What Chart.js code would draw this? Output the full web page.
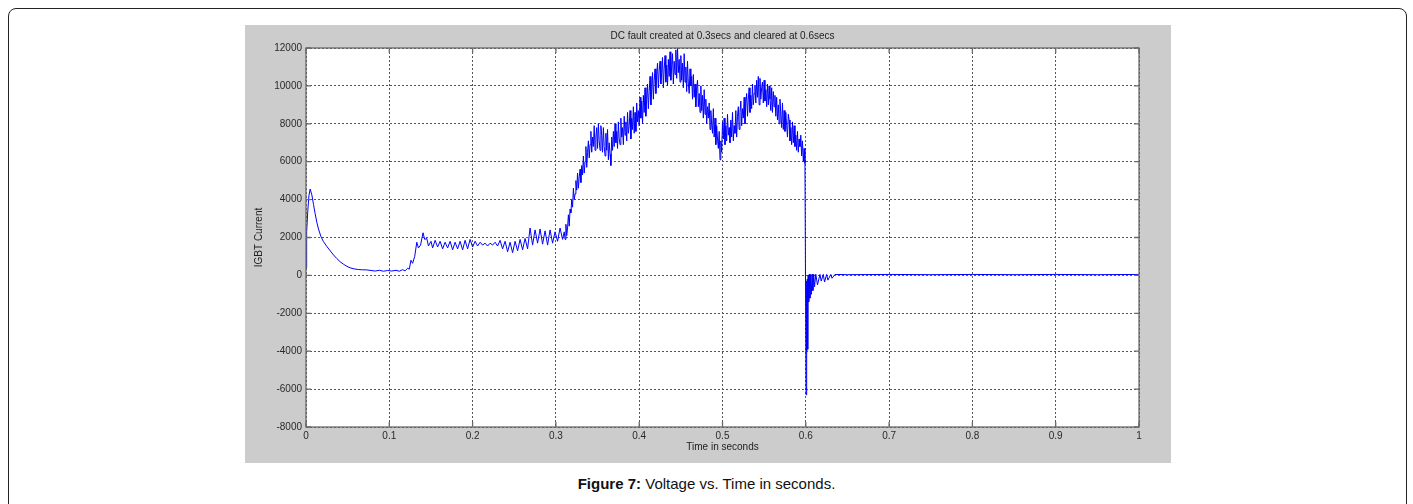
<!DOCTYPE html>
<html>
<head>
<meta charset="utf-8">
<script src="https://cdn.jsdelivr.net/npm/chart.js@4.4.0/dist/chart.umd.min.js"></script>
<style>
    body { margin: 0; background: #fff; width: 1413px; height: 504px; overflow: hidden; position: relative; font-family: Arial, "Liberation Sans", sans-serif; }
    #marco { position: absolute; left: 8px; top: 8px; width: 1397px; height: 520px; border: 1px solid #222; border-radius: 8px; }
    #panel { position: absolute; left: 245px; top: 25px; width: 926px; height: 438px; background: #cccccc; }
    #pie { position: absolute; left: 0; top: 475px; width: 1413px; text-align: center; font-size: 15px; line-height: 18px; color: #111; }
</style>
</head>
<body>
<div id="marco"></div>
<div id="panel"><canvas id="graficaIGBT" width="926" height="438"></canvas></div>
<div id="pie"><b>Figure 7:</b> Voltage vs. Time in seconds.</div>
<script>
//Arranque (0 - 0.073 s)
const tiempoArranque = [0, 0.0008, 0.002, 0.0035, 0.005, 0.007, 0.009, 0.011, 0.013, 0.015, 0.018, 0.021, 0.025, 0.029, 0.033, 0.037, 0.041, 0.045, 0.049, 0.053, 0.058, 0.063, 0.068, 0.073];
const corrienteArranque = [400, 2300, 3300, 4200, 4560, 4250, 3750, 3250, 2800, 2450, 2040, 1780, 1530, 1300, 1080, 890, 720, 590, 480, 400, 340, 310, 295, 290];

//Rizado antes de la falla (0.078 - 0.308 s)
const tiempoRizado = [0.078, 0.083, 0.088, 0.093, 0.098, 0.103, 0.108, 0.112, 0.116, 0.119, 0.122, 0.124, 0.126, 0.128, 0.1305, 0.133, 0.135, 0.1375, 0.1405, 0.1425,
    0.145, 0.147, 0.150, 0.152, 0.155, 0.158, 0.161, 0.164, 0.167, 0.170, 0.173, 0.176, 0.179, 0.182, 0.185, 0.188, 0.191, 0.194, 0.197, 0.200,
    0.203, 0.206, 0.209, 0.212, 0.215, 0.218, 0.221, 0.224, 0.227, 0.230, 0.233, 0.236, 0.239, 0.242, 0.245, 0.248, 0.251, 0.254, 0.257, 0.260,
    0.263, 0.266, 0.269, 0.272, 0.275, 0.278, 0.281, 0.284, 0.287, 0.290, 0.293, 0.296, 0.299, 0.302, 0.305, 0.308];
const corrienteRizado = [260, 230, 270, 220, 260, 230, 270, 220, 300, 240, 380, 330, 800, 640, 1000, 1750, 1450, 1600, 2250, 1900,
    1950, 1550, 1800, 1450, 1850, 1500, 1800, 1400, 1750, 1450, 1800, 1350, 1750, 1400, 1800, 1350, 1850, 1400, 1900, 1500,
    1800, 1550, 1750, 1600, 1700, 1550, 1700, 1600, 1750, 1550, 1850, 1400, 1800, 1250, 1750, 1200, 1800, 1300, 1900, 1350,
    1950, 1400, 2500, 1600, 2400, 1700, 2450, 1650, 2350, 1600, 2400, 1700, 2300, 1800, 2500, 1900];

//Falla DC (0.310 - 0.599 s, una muestra cada 1 ms)
const inicioFalla = 0.31;
const pasoFalla = 0.001;
const corrienteFalla = [
    2300, 1900, 2700, 2100, 2500,   3200, 2600, 3500, 3300, 4000,   3600, 4600, 4000, 4300, 5000,   4500, 5400, 4600, 5200, 5600,
    4900, 5800, 5300, 6300, 5400,   6000, 6800, 5700, 6500, 7100,   6200, 6900, 7600, 6500, 7300,   6800, 7900, 6600, 7300, 7800,
    6700, 8000, 7100, 6600, 7900,   7400, 6500, 7800, 6800, 6300,   7500, 6600, 7700, 6100, 7000,   6400, 5800, 7300, 6600, 7600,
    6800, 8000, 7000, 7600, 6700,   8100, 7200, 6900, 8300, 7300,   7800, 6900, 8400, 7400, 8100,   7100, 8600, 7500, 7900, 8700,
    7200, 8300, 7700, 8900, 7500,   8600, 7600, 9100, 8100, 8700,   7900, 9400, 8300, 9200, 8000,   9500, 8600, 9900, 8400, 9300,
    10100, 8800, 9700, 10500, 9000, 9800, 10700, 9300, 10300, 10900, 9600, 10600, 11200, 9900, 10800, 11300, 10100, 10700, 11500, 9900,
    10900, 11600, 10200, 11100, 10000, 11400, 10500, 11800, 10300, 11000, 11700, 10100, 11300, 10600, 11900, 10400, 12000, 10700, 11400, 10200,
    11600, 10300, 11200, 9900, 11700, 10200, 11000, 9700, 11300, 10100, 9600, 10900, 10000, 10500, 9300, 10600, 9400, 10100, 8900, 9900,
    10300, 8900, 9600, 8600, 10000, 8700, 9500, 8300, 9800, 8500,   9300, 8000, 8900, 8300, 9100,   7700, 8700, 8000, 7500, 8800,
    7300, 8300, 6900, 7900, 7200,   6700, 7600, 6100, 7100, 6500,   8100, 7200, 8300, 6900, 7900,   7100, 8500, 7400, 7800, 7000,
    8200, 7300, 8600, 7100, 7900,   7500, 8700, 7300, 8400, 8900,   7700, 8600, 9200, 7900, 8800,   8300, 9400, 8000, 9100, 9600,
    8400, 9300, 9900, 8600, 9500,   8800, 10100, 9000, 9600, 10000, 9100, 10300, 9400, 10500, 9000, 10400, 9300, 9900, 10200, 9100,
    10300, 9200, 9800, 8900, 10100, 9000, 10000, 9300, 8700, 9900,  8600, 9700, 8900, 9500, 8400,   9400, 8200, 9000, 8000, 9300,
    8500, 7800, 9100, 7700, 8700,   7600, 8600, 7900, 7300, 8500,   8200, 7100, 7800, 6900, 8100,   7000, 7900, 6800, 7400, 6600,
    7600, 6500, 7200, 6800, 7400,   6300, 7100, 6000, 6700, 5900
];

//Despeje de la falla (0.6 - 1 s)
const tiempoDespeje = [0.6003, 0.6008, 0.6013, 0.6018, 0.6023, 0.6028, 0.6035, 0.6042, 0.6050, 0.6058, 0.6066, 0.6075, 0.6085, 0.6095, 0.6105, 0.612, 0.614, 0.617,
    0.6185, 0.621, 0.6225, 0.625, 0.6265, 0.630, 0.6315, 0.635, 0.65, 0.70, 0.75, 0.80, 0.85, 0.90, 0.95, 1.0];
const corrienteDespeje = [-6300, -300, -4000, -200, -3900, 0, -1400, 60, -1200, 40, -1000, 60, -800, 60, -600, 60, -500, 50,
    -300, 50, -350, 50, -250, 50, -150, 50, 40, 50, 40, 50, 40, 50, 40, 50];

//Las etiquetas de los ejes
const ticksX = [0, 0.1, 0.2, 0.3, 0.4, 0.5, 0.6, 0.7, 0.8, 0.9, 1];
const ticksY = [-8000, -6000, -4000, -2000, 0, 2000, 4000, 6000, 8000, 10000, 12000];

//Juntando todos los puntos
const puntos = [];
tiempoArranque.forEach((t, i) => puntos.push({x: t, y: corrienteArranque[i]}));
tiempoRizado.forEach((t, i) => puntos.push({x: t, y: corrienteRizado[i]}));
corrienteFalla.forEach((v, i) => puntos.push({x: +(inicioFalla + i * pasoFalla).toFixed(4), y: v}));
tiempoDespeje.forEach((t, i) => puntos.push({x: t, y: corrienteDespeje[i]}));

//Fondo blanco, marco y marcas hacia dentro (estilo matlab)
const marcoMatlab = {
    id: 'marcoMatlab',
    beforeDraw(chart) {
        const {ctx, chartArea: a} = chart;
        ctx.save();
        ctx.fillStyle = '#ffffff';
        ctx.fillRect(a.left, a.top, a.right - a.left, a.bottom - a.top);
        ctx.restore();
    },
    afterDraw(chart) {
        const {ctx, chartArea: a, scales: {x, y}} = chart;
        ctx.save();
        ctx.strokeStyle = '#6a6a6a';
        ctx.lineWidth = 1.3;
        ctx.strokeRect(a.left, a.top, a.right - a.left, a.bottom - a.top);
        ctx.beginPath();
        ticksX.forEach(v => {
            const px = x.getPixelForValue(v);
            ctx.moveTo(px, a.bottom); ctx.lineTo(px, a.bottom - 5);
            ctx.moveTo(px, a.top); ctx.lineTo(px, a.top + 5);
        });
        ticksY.forEach(v => {
            const py = y.getPixelForValue(v);
            ctx.moveTo(a.left, py); ctx.lineTo(a.left + 5, py);
            ctx.moveTo(a.right, py); ctx.lineTo(a.right - 5, py);
        });
        ctx.stroke();
        ctx.restore();
    }
};

Chart.defaults.font.family = 'Arial, "Liberation Sans", sans-serif';
Chart.defaults.font.size = 10;
Chart.defaults.color = '#2a2a2a';

const grafica = document.getElementById('graficaIGBT').getContext('2d');
const chart1 = new Chart(grafica, {
    type: 'line',
    data: {
        datasets: [{
            label: 'IGBT Current',
            data: puntos,
            borderColor: '#0000ff',
            borderWidth: 1,
            pointRadius: 0,
            tension: 0,
            fill: false
        }]
    },
    options: {
        responsive: false,
        animation: false,
        layout: {
            padding: {left: 0, top: 0, right: 32, bottom: 0}
        },
        plugins: {
            legend: {display: false},
            tooltip: {enabled: false},
            title: {
                display: true,
                text: 'DC fault created at 0.3secs and cleared at 0.6secs',
                fullSize: false,
                color: '#222',
                font: {size: 10, weight: 'normal'},
                padding: {top: 5, bottom: 6}
            }
        },
        scales: {
            x: {
                type: 'linear',
                min: 0,
                max: 1,
                afterBuildTicks: s => { s.ticks = ticksX.map(v => ({value: v})); },
                afterFit: s => { s.height = 36; },
                ticks: {
                    padding: 3,
                    maxRotation: 0,
                    autoSkip: false,
                    callback: v => String(Number(v.toFixed(1)))
                },
                grid: {color: '#555', lineWidth: 1, drawTicks: false},
                border: {display: false, dash: [2, 2]},
                title: {display: true, text: 'Time in seconds', color: '#222', padding: {top: 0, bottom: 10}}
            },
            y: {
                min: -8000,
                max: 12000,
                afterBuildTicks: s => { s.ticks = ticksY.map(v => ({value: v})); },
                afterFit: s => { s.width = 61; },
                ticks: {
                    padding: 4,
                    autoSkip: false,
                    callback: v => String(v)
                },
                grid: {color: '#555', lineWidth: 1, drawTicks: false},
                border: {display: false, dash: [2, 2]},
                title: {display: true, text: 'IGBT Current', color: '#222', padding: {top: 8, bottom: 0}}
            }
        }
    },
    plugins: [marcoMatlab]
});
</script>
</body>
</html>
